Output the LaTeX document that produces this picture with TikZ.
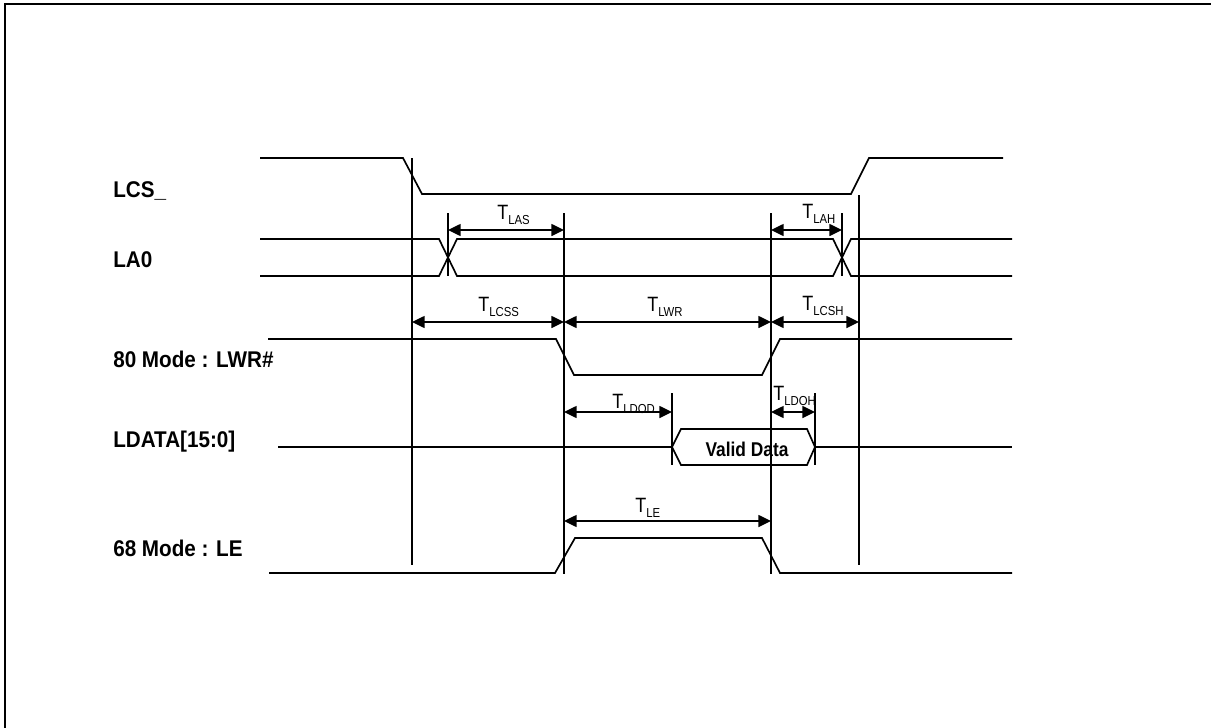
\documentclass[tikz,border=0pt]{standalone}
\usepackage{fontspec}
\usepackage{graphicx}
\setmainfont{Liberation Sans}
\usetikzlibrary{arrows.meta}
\newcommand{\Tlab}[1]{\scalebox{1}[1.15]{\fontsize{13.5}{14}\selectfont T\raisebox{-3.5pt}{\fontsize{8.5}{9}\selectfont #1}}}
\newcommand{\Slab}[1]{\scalebox{1}[1.1]{\bfseries\fontsize{15.5}{16}\selectfont #1}}
\begin{document}
\begin{tikzpicture}[x=0.75pt,y=-0.75pt,
  sig/.style={line width=1.25pt},
  guide/.style={line width=0.9pt},
  dim/.style={line width=1.1pt,{Triangle[length=9.5pt,width=9pt]}-{Triangle[length=9.5pt,width=9pt]}},
  lab/.style={anchor=base west, inner sep=0pt},
  tl/.style={anchor=base west, inner sep=0pt}]
\useasboundingbox (0,0) rectangle (1211,728);
% frame (only top and left edges visible)
\draw[line width=1.5pt] (5,728) -- (5,4.3) -- (1211,4.3);

% signal labels
\node[lab] (lcs) at (113,197) {\Slab{LCS\_}};
\node[lab] (la0) at (113,267) {\Slab{LA0}};
\node[lab] (lwr) at (113,367) {\Slab{80 Mode : LWR\#}};
\node[lab] (ldata) at (113,447) {\Slab{LDATA[15:0]}};
\node[lab] (le) at (113,556) {\Slab{68 Mode : LE}};

% vertical reference lines
\coordinate (vAt) at (412,158); \coordinate (vAb) at (412,565);
\coordinate (vBt) at (448,213); \coordinate (vBb) at (448,276);
\coordinate (vCt) at (564,213); \coordinate (vCb) at (564,574);
\coordinate (vDt) at (771,213); \coordinate (vDb) at (771,574);
\coordinate (vEt) at (842,213); \coordinate (vEb) at (842,276);
\coordinate (vFt) at (859,195); \coordinate (vFb) at (859,565);
\coordinate (vGt) at (672,393); \coordinate (vGb) at (672,465);
\coordinate (vHt) at (815,393); \coordinate (vHb) at (815,465);
\foreach \v in {A,B,C,D,E,F,G,H} \draw[guide] (v\v t) -- (v\v b);

% LCS_
\draw[sig] (260,158) -- (403,158) -- (422,194) -- (851,194) -- (869,158) -- (1003,158);
% LA0 bus
\draw[sig] (260,239) -- (439,239) -- (457,276) -- (833,276) -- (851,239) -- (1012,239);
\draw[sig] (260,276) -- (439,276) -- (457,239) -- (833,239) -- (851,276) -- (1012,276);
% LWR#
\draw[sig] (268,339) -- (556,339) -- (574,375) -- (762,375) -- (780,339) -- (1012,339);
% LDATA
\draw[sig] (278,447) -- (672,447);
\draw[sig] (672,447) -- (681,429) -- (807,429) -- (815,447) -- (807,465) -- (681,465) -- cycle;
\draw[sig] (815,447) -- (1012,447);
\node[anchor=base, inner sep=0pt] (vd) at (747,456) {\scalebox{1}[1.15]{\bfseries\fontsize{13}{14}\selectfont Valid Data}};
% LE
\draw[sig] (269,573) -- (555,573) -- (575,538) -- (762,538) -- (780,573) -- (1012,573);

% dimension arrows
\coordinate (las1) at (448,230); \coordinate (las2) at (564,230);
\coordinate (lah1) at (771,230); \coordinate (lah2) at (842,230);
\coordinate (lcss1) at (412,322); \coordinate (lcss2) at (564,322);
\coordinate (lwr2) at (771,322);
\coordinate (lcsh2) at (859,322);
\coordinate (ldod1) at (564,412); \coordinate (ldod2) at (672,412);
\coordinate (ldoh1) at (771,412); \coordinate (ldoh2) at (815,412);
\coordinate (le1) at (564,521); \coordinate (le2) at (771,521);
\draw[dim] (las1) -- (las2);
\draw[dim] (lah1) -- (lah2);
\draw[dim] (lcss1) -- (lcss2);
\draw[dim] (lcss2) -- (lwr2);
\draw[dim] (lwr2) -- (lcsh2);
\draw[dim] (ldod1) -- (ldod2);
\draw[dim] (ldoh1) -- (ldoh2);
\draw[dim] (le1) -- (le2);

% timing labels
\node[tl] (tlas) at (497,219) {\Tlab{LAS}};
\node[tl] (tlah) at (802,218) {\Tlab{LAH}};
\node[tl] (tlcss) at (478,311) {\Tlab{LCSS}};
\node[tl] (tlwr) at (647,311) {\Tlab{LWR}};
\node[tl] (tlcsh) at (802,310) {\Tlab{LCSH}};
\node[tl] (tldod) at (612,408) {\Tlab{LDOD}};
\node[tl] (tldoh) at (773,400) {\Tlab{LDOH}};
\node[tl] (tle) at (635,512) {\Tlab{LE}};
\end{tikzpicture}
\end{document}
